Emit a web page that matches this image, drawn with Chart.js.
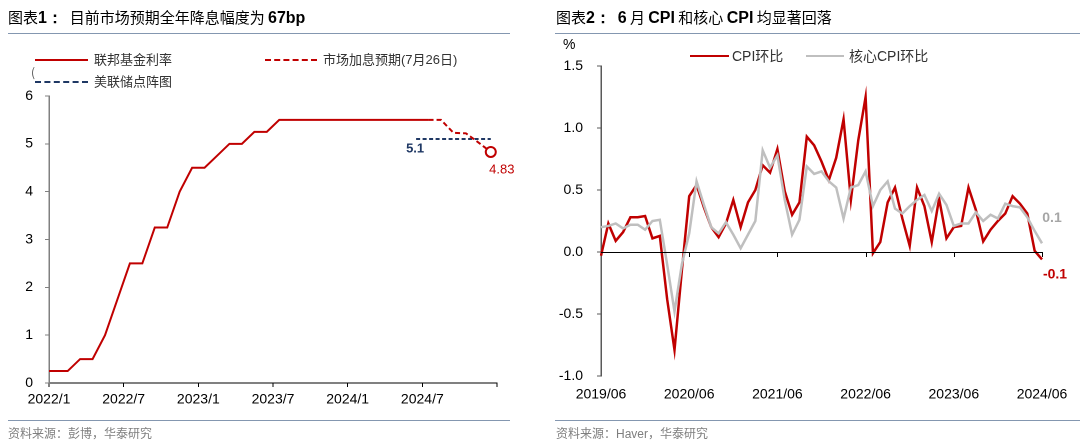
<!DOCTYPE html>
<html>
<head>
<meta charset="utf-8">
<script src="https://cdn.jsdelivr.net/npm/chart.js@4.4.1/dist/chart.umd.min.js"></script>
<style>
  html,body{margin:0;padding:0;background:#fff;}
  #wrap{position:relative;width:1080px;height:446px;overflow:hidden;background:#fff;}
  .abs{position:absolute;white-space:nowrap;}
  .title{font-family:"Noto Sans CJK SC","Liberation Sans",sans-serif;font-size:15px;color:#000;line-height:20px;}
  .title b{font-family:"Liberation Sans",Arial,sans-serif;font-weight:bold;font-size:16px;}
  .rule{position:absolute;height:1px;background:#8497b0;}
  .foot{font-family:"Noto Sans CJK SC","Liberation Sans",sans-serif;font-size:12px;color:#7f7f7f;line-height:16px;}
  .foot span{font-family:"Liberation Sans",Arial,sans-serif;}
  .leg{font-family:"Noto Sans CJK SC","Liberation Sans",sans-serif;font-size:13px;color:#333;line-height:18px;}
  .leg span{font-family:"Liberation Sans",Arial,sans-serif;}
  .sw{position:absolute;height:0;}
  canvas{position:absolute;top:0;}
</style>
</head>
<body>
<div id="wrap">
  <canvas id="c1" width="540" height="446" style="left:0;width:540px;height:446px;"></canvas>
  <canvas id="c2" width="540" height="446" style="left:540px;width:540px;height:446px;"></canvas>

  <div class="abs title" style="left:8px;top:7px;">图表<b>1：</b>&nbsp;&nbsp;目前市场预期全年降息幅度为 <b>67bp</b></div>
  <div class="rule" style="left:8px;top:33px;width:502px;"></div>
  <div class="abs title" style="left:556px;top:7px;">图表<b>2：</b>&nbsp;&nbsp;<b>6</b> 月 <b>CPI</b> 和核心 <b>CPI</b> 均显著回落</div>
  <div class="rule" style="left:555px;top:33px;width:525px;"></div>

  <div class="rule" style="left:8px;top:420px;width:502px;"></div>
  <div class="abs foot" style="left:8px;top:425px;">资料来源：彭博，华泰研究</div>
  <div class="rule" style="left:555px;top:420px;width:525px;"></div>
  <div class="abs foot" style="left:556px;top:425px;">资料来源：<span>Haver</span>，华泰研究</div>

  <!-- left legend -->
  <div class="sw" style="left:35px;top:59px;width:53px;border-top:2px solid #C00000;"></div>
  <div class="abs leg" style="left:94px;top:50px;">联邦基金利率</div>
  <div class="sw" style="left:265px;top:59px;width:52px;border-top:2px dashed #C00000;"></div>
  <div class="abs leg" style="left:323px;top:50px;">市场加息预期<span>(7</span>月<span>26</span>日<span>)</span></div>
  <div class="abs leg" style="left:31px;top:63px;font-size:12px;color:#555;">(</div>
  <div class="sw" style="left:35px;top:81px;width:53px;border-top:2px dashed #1F3864;"></div>
  <div class="abs leg" style="left:94px;top:72px;">美联储点阵图</div>

  <!-- right legend -->
  <div class="abs leg" style="left:563px;top:35px;font-family:'Liberation Sans',Arial,sans-serif;font-size:14px;color:#000;">%</div>
  <div class="sw" style="left:690px;top:55px;width:39px;border-top:2.5px solid #C00000;"></div>
  <div class="abs leg" style="left:732px;top:46px;font-size:14px;color:#333;"><span>CPI</span>环比</div>
  <div class="sw" style="left:806px;top:55px;width:38px;border-top:2.5px solid #BFBFBF;"></div>
  <div class="abs leg" style="left:849px;top:46px;font-size:14px;color:#333;">核心<span>CPI</span>环比</div>
</div>

<script>
// ---------------- Data: chart 1 ----------------
const fedMonths = ['2021/12',
  '2022/1','2022/2','2022/3','2022/4','2022/5','2022/6','2022/7','2022/8','2022/9','2022/10','2022/11','2022/12',
  '2023/1','2023/2','2023/3','2023/4','2023/5','2023/6','2023/7','2023/8','2023/9','2023/10','2023/11','2023/12',
  '2024/1','2024/2','2024/3','2024/4','2024/5','2024/6','2024/7'];
const fedRate = [0.25,
  0.25,0.25,0.5,0.5,1.0,1.75,2.5,2.5,3.25,3.25,4.0,4.5,
  4.5,4.75,5.0,5.0,5.25,5.25,5.5,5.5,5.5,5.5,5.5,5.5,
  5.5,5.5,5.5,5.5,5.5,5.5,5.5];
const marketMonths = ['2024/7','2024/8','2024/9','2024/10','2024/11','2024/12'];
const marketRate = [5.5,5.5,5.23,5.22,5.03,4.83];
const dotMonths = ['2024/6','2024/12'];
const dotRate = [5.1,5.1];
const leftTicks = ['2022/1','2022/7','2023/1','2023/7','2024/1','2024/7',''];
const leftYTicks = [0,1,2,3,4,5,6];

// ---------------- Data: chart 2 ----------------
const cpiMonths = [];
(function(){ for(let y=2019,m=6; y<2024 || (y===2024 && m<=6); m++){ if(m>12){m=1;y++;} if(y===2024&&m>6)break; cpiMonths.push(y+'/'+String(m).padStart(2,'0')); } })();
const cpiMoM = [-0.03,0.23,0.09,0.16,0.28,0.28,0.29,
  0.11,0.13,-0.38,-0.79,-0.15,0.45,0.54,0.36,0.20,0.12,0.23,0.42,
  0.20,0.40,0.50,0.70,0.64,0.83,0.49,0.30,0.40,0.93,0.86,0.73,
  0.58,0.76,1.07,0.42,0.90,1.25,-0.01,0.08,0.40,0.52,0.27,0.05,
  0.52,0.37,0.08,0.43,0.11,0.20,0.21,0.52,0.34,0.085,0.18,0.25,
  0.31,0.45,0.39,0.31,0.01,-0.06];
const coreMoM = [0.20,0.21,0.23,0.19,0.22,0.22,0.18,
  0.25,0.26,-0.10,-0.48,-0.10,0.15,0.57,0.38,0.20,0.15,0.24,0.14,
  0.03,0.14,0.25,0.82,0.68,0.78,0.42,0.14,0.26,0.69,0.63,0.65,
  0.57,0.52,0.27,0.52,0.54,0.65,0.37,0.50,0.57,0.35,0.31,0.37,
  0.42,0.46,0.33,0.47,0.38,0.21,0.23,0.23,0.32,0.25,0.30,0.27,
  0.39,0.37,0.36,0.28,0.17,0.07];
const rightTicks = ['2019/06','2020/06','2021/06','2022/06','2023/06','2024/06'];
const rightYTicks = [-1.0,-0.5,0.0,0.5,1.0,1.5];

// ---------------- helpers ----------------
const RED = '#C00000', NAVY = '#1F3864', GRAY = '#BFBFBF';
const NUMFONT = "'Liberation Sans', Arial, sans-serif";
Chart.defaults.font.family = NUMFONT;
Chart.defaults.font.size = 14;
Chart.defaults.color = '#000';
function pos(m){ const [y,mo] = m.split('/').map(Number); return (y-2022)*12 + (mo-1) + 0.5; }
function pts(months, vals){ return months.map((m,i)=>({x:pos(m), y:vals[i]})); }

// ---------------- Chart 1 ----------------
const labels1 = {
  id:'labels1',
  afterDatasetsDraw(chart){
    const {ctx, scales:{x,y}} = chart;
    ctx.save();
    ctx.textAlign='center'; ctx.textBaseline='middle';
    ctx.font = "bold 13px " + NUMFONT; ctx.fillStyle = NAVY;
    ctx.fillText(dotRate[0].toFixed(1), x.getPixelForValue(pos(dotMonths[0])) - 1, y.getPixelForValue(dotRate[0]) + 10);
    ctx.font = "13px " + NUMFONT; ctx.fillStyle = RED;
    const lm = marketMonths.length-1;
    ctx.fillText(marketRate[lm].toFixed(2), x.getPixelForValue(pos(marketMonths[lm])) + 11, y.getPixelForValue(marketRate[lm]) + 18);
    ctx.restore();
  }
};
new Chart(document.getElementById('c1'), {
  type:'line',
  data:{ datasets:[
    { data: pts(fedMonths, fedRate), borderColor:RED, borderWidth:2, pointRadius:0, tension:0 },
    { data: pts(marketMonths, marketRate), borderColor:RED, borderWidth:2, borderDash:[5,3], tension:0,
      pointRadius: marketRate.map((v,i)=> i===marketRate.length-1 ? 5 : 0),
      pointBackgroundColor:'#fff', pointBorderColor:RED, pointBorderWidth:2 },
    { data: pts(dotMonths, dotRate), borderColor:NAVY, borderWidth:2, borderDash:[4,2.5], pointRadius:0, tension:0 }
  ]},
  options:{
    responsive:false, animation:false, devicePixelRatio:2,
    layout:{ padding:{ top:96, right:43, bottom:0, left:0 } },
    plugins:{ legend:{display:false}, tooltip:{enabled:false} },
    scales:{
      x:{ type:'linear', min:0, max:36,
        afterBuildTicks(s){ s.ticks = leftTicks.map((t,i)=>({value:i*6})); },
        afterFit(s){ s.height = 63; },
        ticks:{ callback:(v)=> leftTicks[Math.round(v/6)], padding:4, maxRotation:0, color:'#000' },
        grid:{ drawOnChartArea:false, drawTicks:true, tickLength:4, color:'#000' },
        border:{ display:true, color:'#000', width:1 } },
      y:{ min:0, max:6,
        afterBuildTicks(s){ s.ticks = leftYTicks.map(v=>({value:v})); },
        afterFit(s){ s.width = 49; },
        ticks:{ padding:12, color:'#000' },
        grid:{ drawOnChartArea:false, drawTicks:true, tickLength:4, color:'#808080' },
        border:{ display:true, color:'#808080', width:1.5 } }
    }
  },
  plugins:[labels1]
});

// ---------------- Chart 2 ----------------
const zeroTicks = {
  id:'zeroTicks',
  afterDatasetsDraw(chart){
    const {ctx, scales:{x,y}} = chart;
    const y0 = y.getPixelForValue(0);
    ctx.save();
    ctx.strokeStyle='#000'; ctx.lineWidth=1;
    ctx.beginPath(); ctx.moveTo(x.left, y0+0.5); ctx.lineTo(x.right, y0+0.5); ctx.stroke();
    cpiMonths.forEach((m,i)=>{
      if(i>0 && rightTicks.includes(m)){
        const px = Math.round(x.getPixelForValue(i))+0.5;
        ctx.beginPath(); ctx.moveTo(px, y0); ctx.lineTo(px, y0+5); ctx.stroke();
      }
    });
    const L = cpiMonths.length-1;
    ctx.textAlign='center'; ctx.textBaseline='middle';
    ctx.font = "bold 14px " + NUMFONT;
    ctx.fillStyle = '#A6A6A6';
    ctx.fillText(coreMoM[L].toFixed(1), x.getPixelForValue(L)+10, y.getPixelForValue(coreMoM[L]) - 25);
    ctx.fillStyle = RED;
    ctx.fillText((Math.round(cpiMoM[L]*10)/10).toFixed(1), x.getPixelForValue(L)+13, y.getPixelForValue(cpiMoM[L]) + 15);
    ctx.restore();
  }
};
new Chart(document.getElementById('c2'), {
  type:'line',
  data:{ labels: cpiMonths, datasets:[
    { data: coreMoM, borderColor:GRAY, borderWidth:2.5, pointRadius:0, tension:0 },
    { data: cpiMoM, borderColor:RED, borderWidth:2.5, pointRadius:0, tension:0 }
  ]},
  options:{
    responsive:false, animation:false, devicePixelRatio:2,
    layout:{ padding:{ top:66, right:38, bottom:0, left:0 } },
    plugins:{ legend:{display:false}, tooltip:{enabled:false} },
    scales:{
      x:{ type:'category', offset:false,
        afterFit(s){ s.height = 70; },
        ticks:{ autoSkip:false, maxRotation:0, padding:10, color:'#000',
          callback:function(v,i){ const l = cpiMonths[i]; return rightTicks.includes(l) ? l : ''; } },
        grid:{ display:false, drawTicks:false },
        border:{ display:false } },
      y:{ min:-1, max:1.5,
        afterBuildTicks(s){ s.ticks = rightYTicks.map(v=>({value:v})); },
        afterFit(s){ s.width = 61; },
        ticks:{ padding:14, color:'#000', callback:(v)=> Number(v).toFixed(1) },
        grid:{ drawOnChartArea:false, drawTicks:true, tickLength:4, tickColor:'#595959', color:'#595959' },
        border:{ display:true, color:'#595959', width:1.5 } }
    }
  },
  plugins:[zeroTicks]
});
</script>
</body>
</html>
